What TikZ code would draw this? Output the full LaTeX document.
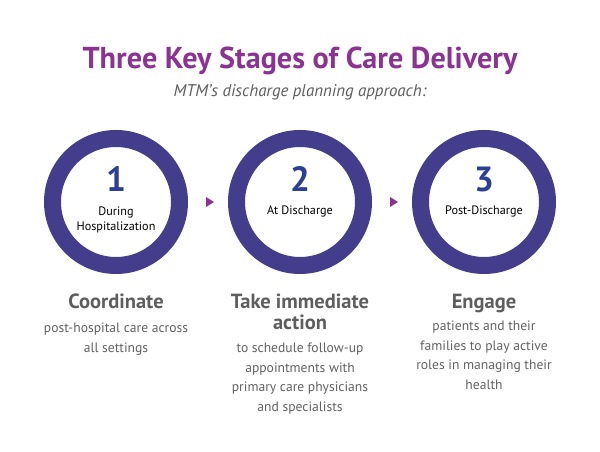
\documentclass[tikz,border=0pt]{standalone}
\usepackage{fontspec}
\setmainfont{PT Sans}
\usetikzlibrary{positioning,calc}
\definecolor{ringcol}{HTML}{433D8B}
\definecolor{numcol}{HTML}{2B3F93}
\definecolor{titlecol}{HTML}{8B3393}
\definecolor{headcol}{HTML}{5E5E5E}
\definecolor{bodycol}{HTML}{626262}
\begin{document}
\begin{tikzpicture}[x=1pt,y=1pt,every node/.style={outer sep=0pt,inner sep=0pt},
        ring/.style={draw=ringcol,line width=17pt,circle,minimum size=127pt},
        num/.style={text=numcol,font=\fontsize{35}{35}\selectfont\bfseries},
        stage/.style={align=center,font=\fontsize{12.2}{15}\selectfont},
        head/.style={text=headcol,align=center,font=\fontsize{20.5}{21}\selectfont\bfseries},
        body/.style={text=bodycol,align=center,font=\fontsize{13.6}{19.5}\selectfont},
        tip/.style={fill=titlecol}]
        \useasboundingbox[fill=white] (0,0) rectangle (600,452);

        % Title
        \node[text=titlecol,font=\fontsize{30.2}{30}\selectfont\bfseries,anchor=base] (title) at (300,383) {Three Key Stages of Care Delivery};
        \node[text=headcol,font=\fontsize{16.9}{17}\selectfont\itshape,anchor=base] (sub) at (300,355.5) {MTM’s discharge planning approach:};

        % Rings
        \node[ring] (c1) at (116,250) {};
        \node[ring] (c2) at (300,250) {};
        \node[ring] (c3) at (484,250) {};
        \node[num,anchor=base] (n1) at (116,260) {1};
        \node[num,anchor=base] (n2) at (300,260) {2};
        \node[num,anchor=base] (n3) at (484,260) {3};
        % (base of a multi-line node = its last line)
        \node[stage,anchor=base] (s1) at (116,221.3) {During\\Hospitalization};
        \node[stage,anchor=base] (s2) at (300,237) {At Discharge};
        \node[stage,anchor=base] (s3) at (484,237) {Post-Discharge};

        % Arrow tips between rings
        \coordinate (t1) at ($(c1)!0.5!(c2)+(2,0)$);
        \coordinate (t2) at ($(c2)!0.5!(c3)+(2,0)$);
        \fill[tip] (t1) ++(-4,5) -- ++(8,-5) -- ++(-8,-5) -- cycle;
        \fill[tip] (t2) ++(-4,5) -- ++(8,-5) -- ++(-8,-5) -- cycle;

        % Text below
        \node[head,anchor=base] (h1) at (116,143) {Coordinate};
        \node[head,anchor=base] (h2) at (300,122) {Take immediate\\action};
        \node[head,anchor=base] (h3) at (484,143) {Engage};
        \node[body,anchor=base] (b1) at (116,99.5) {post-hospital care across\\all settings};
        \node[body,anchor=base] (b2) at (300,40.5) {to schedule follow-up\\appointments with\\primary care physicians\\and specialists};
        \node[body,anchor=base] (b3) at (484,62.5) {patients and their\\families to play active\\roles in managing their\\health};

    \end{tikzpicture}
\end{document}
